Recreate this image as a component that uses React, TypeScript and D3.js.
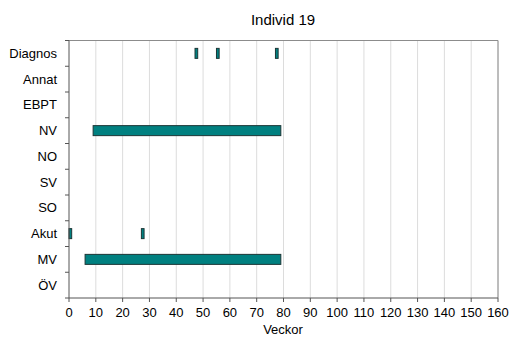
import React from "react";
import * as d3 from "d3";

const categories = ["Diagnos", "Annat", "EBPT", "NV", "NO", "SV", "SO", "Akut", "MV", "ÖV"];
// Each span: [category, start week, end week]
const spanCategory = ["Diagnos", "Diagnos", "Diagnos", "NV", "Akut", "Akut", "MV"];
const spanStart = [47, 55, 77, 9, 0, 27, 6];
const spanEnd = [48, 56, 78, 79, 1, 28, 79];
const xTicks = d3.range(0, 161, 10);

const W = 511;
const H = 338;
const margin = { top: 40.5, right: 13, bottom: 40, left: 69 };

export default function App() {
  const x = d3.scaleLinear().domain([0, 160]).range([margin.left, W - margin.right]);
  const y = d3.scaleBand().domain(categories).range([margin.top, H - margin.bottom]);
  const barH = 10;
  const font = "'Liberation Sans', Arial, sans-serif";
  const x0 = x(0);
  const x1 = x(160);
  const y0 = margin.top;
  const y1 = H - margin.bottom;

  return (
    <svg width={W} height={H} style={{ position: "absolute", left: 0, top: 0 }} fontFamily={font}>
      <rect width={W} height={H} fill="#fff" />
      <text x={283} y={25} textAnchor="middle" fontSize={15} fill="#000">Individ 19</text>
      {xTicks.slice(1).map((t) => (
        <line key={"g" + t} x1={x(t)} x2={x(t)} y1={y0} y2={y1} stroke="#dcdcdc" strokeWidth={1} />
      ))}
      <line x1={x0} x2={x1} y1={y0} y2={y0} stroke="#8c8c8c" />
      <line x1={x1} x2={x1} y1={y0} y2={y1} stroke="#8c8c8c" />
      {spanCategory.map((c, i) => (
        <rect
          key={i}
          x={x(spanStart[i])}
          y={(y(c) as number) + y.bandwidth() / 2 - barH / 2}
          width={x(spanEnd[i]) - x(spanStart[i])}
          height={barH}
          fill="#008080"
          stroke="#1c3636"
          strokeWidth={1}
        />
      ))}
      <line x1={x0} x2={x0} y1={y0} y2={y1} stroke="#555" />
      <line x1={x0} x2={x1} y1={y1} y2={y1} stroke="#555" />
      {categories.map((c, i) => (
        <g key={c}>
          <line x1={x0 - 4} x2={x0} y1={(y(c) as number) + y.bandwidth()} y2={(y(c) as number) + y.bandwidth()} stroke="#555" />
          <text x={57} y={(y(c) as number) + y.bandwidth() / 2 + 4.5} textAnchor="end" fontSize={13} fill="#000">{c}</text>
        </g>
      ))}
      <line x1={x0 - 4} x2={x0} y1={y0} y2={y0} stroke="#555" />
      {xTicks.map((t) => (
        <g key={t}>
          <line x1={x(t)} x2={x(t)} y1={y1} y2={y1 + 4} stroke="#555" />
          <text x={x(t)} y={y1 + 19} textAnchor="middle" fontSize={13} fill="#000">{t}</text>
        </g>
      ))}
      <text x={283} y={334} textAnchor="middle" fontSize={13} fill="#000">Veckor</text>
    </svg>
  );
}
